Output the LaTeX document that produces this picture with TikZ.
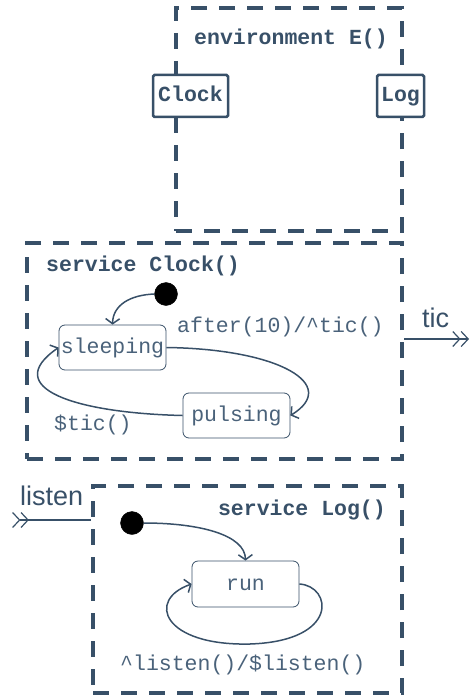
\documentclass[tikz,border=0pt]{standalone}
\usepackage{fontspec}
\setmonofont{Liberation Mono}
\newfontfamily\arialf{Liberation Sans}
\usetikzlibrary{arrows.meta}
\definecolor{ink}{RGB}{56,80,104}
\definecolor{inklight}{RGB}{74,98,122}
\begin{document}
\begin{tikzpicture}[x=1pt,y=-1pt,
  dashbox/.style={draw=ink, line width=4pt, dash pattern=on 16pt off 12pt, inner sep=0},
  portbox/.style={draw=ink, line width=2.5pt, fill=white, rounded corners=1.5pt, font=\ttfamily\bfseries\fontsize{21.5}{24}\selectfont, text=ink, text height=14pt, text depth=3pt, inner sep=0},
  statebox/.style={draw=ink, line width=0.8pt, rounded corners=6pt, font=\ttfamily\fontsize{21.5}{24}\selectfont, text=inklight, text height=15pt, text depth=3pt, inner sep=0},
  lbltxt/.style={font=\ttfamily\fontsize{21.5}{24}\selectfont, text=inklight, inner sep=0, anchor=base west},
  boldtxt/.style={font=\ttfamily\bfseries\fontsize{21.5}{24}\selectfont, text=ink, inner sep=0},
  sanstxt/.style={font=\arialf\fontsize{27}{30}\selectfont, text=ink, inner sep=0, anchor=base west},
  trans/.style={draw=ink, line width=1.5pt, -{Straight Barb[length=5pt,width=14pt]}},
  portarrow/.style={draw=ink, line width=1.2pt, -{Straight Barb[length=7pt,width=15pt] Straight Barb[length=7pt,width=15pt]}},
  portin/.style={draw=ink, line width=1.2pt, {Straight Barb[length=7pt,width=15pt,reversed] Straight Barb[length=7pt,width=15pt,reversed]}-},
  initdot/.style={circle, fill=black, draw=black, minimum size=23pt, inner sep=0}
]
\useasboundingbox (0,0) rectangle (469,698);

% environment
\node[dashbox, minimum width=226pt, minimum height=223pt] (env) at (289,119.5) {};
\node[boldtxt, anchor=base west] (envlbl) at (194,45) {environment E()};
\node[portbox, minimum width=75pt, minimum height=42pt] (clockport) at (190.5,96) {Clock};
\node[portbox, minimum width=47pt, minimum height=42pt] (logport) at (400.5,96) {Log};

% service Clock
\node[dashbox, minimum width=375pt, minimum height=216pt] (clocksvc) at (214.5,351) {};
\node[boldtxt, anchor=base west] (clocklbl) at (46,271) {service Clock()};
\node[initdot] (cinit) at (166,294) {};
\node[statebox, minimum width=107pt, minimum height=45pt] (sleeping) at (112.5,347.5) {sleeping};
\node[statebox, minimum width=107pt, minimum height=45pt] (pulsing) at (236.5,415.5) {pulsing};
\node[lbltxt] (afterlbl) at (177,332) {after(10)/\textasciicircum tic()};
\node[lbltxt] (ticlbl) at (54,430) {\$tic()};

\draw[trans] (cinit.west) .. controls (130,295) and (113,305) .. (sleeping.north);
\draw[trans] (sleeping.east) .. controls (280,349) and (340,385) .. (pulsing.east);
\draw[trans] (pulsing.west) .. controls (75,413) and (0,388) .. (sleeping.west);

\coordinate (ticend) at (469,339);
\draw[portarrow] (clocksvc.east |- ticend) -- (ticend);
\node[sanstxt] (ticname) at (422,327) {tic};

% service Log
\node[dashbox, minimum width=309pt, minimum height=207pt] (logsvc) at (247.5,589.5) {};
\node[boldtxt, anchor=base east] (loglbl) at (386,515) {service Log()};
\node[initdot] (linit) at (132,523) {};
\node[statebox, minimum width=107pt, minimum height=46pt] (run) at (245.5,584) {run};
\node[lbltxt] (listenlbl) at (120,670) {\textasciicircum listen()/\$listen()};

\draw[trans] (linit.east) .. controls (200,523) and (245,535) .. (run.north);
\coordinate (loopbot) at (250,644);
\draw[draw=ink, line width=1.5pt] (run.east) .. controls (332,586) and (340,641) .. (loopbot);
\draw[trans] (loopbot) .. controls (163,646) and (146,600) .. (run.west);

\coordinate (listenend) at (12,520);
\draw[portin] (listenend) -- (logsvc.west |- listenend);
\node[sanstxt] (listenname) at (20,505) {listen};
\end{tikzpicture}
\end{document}
